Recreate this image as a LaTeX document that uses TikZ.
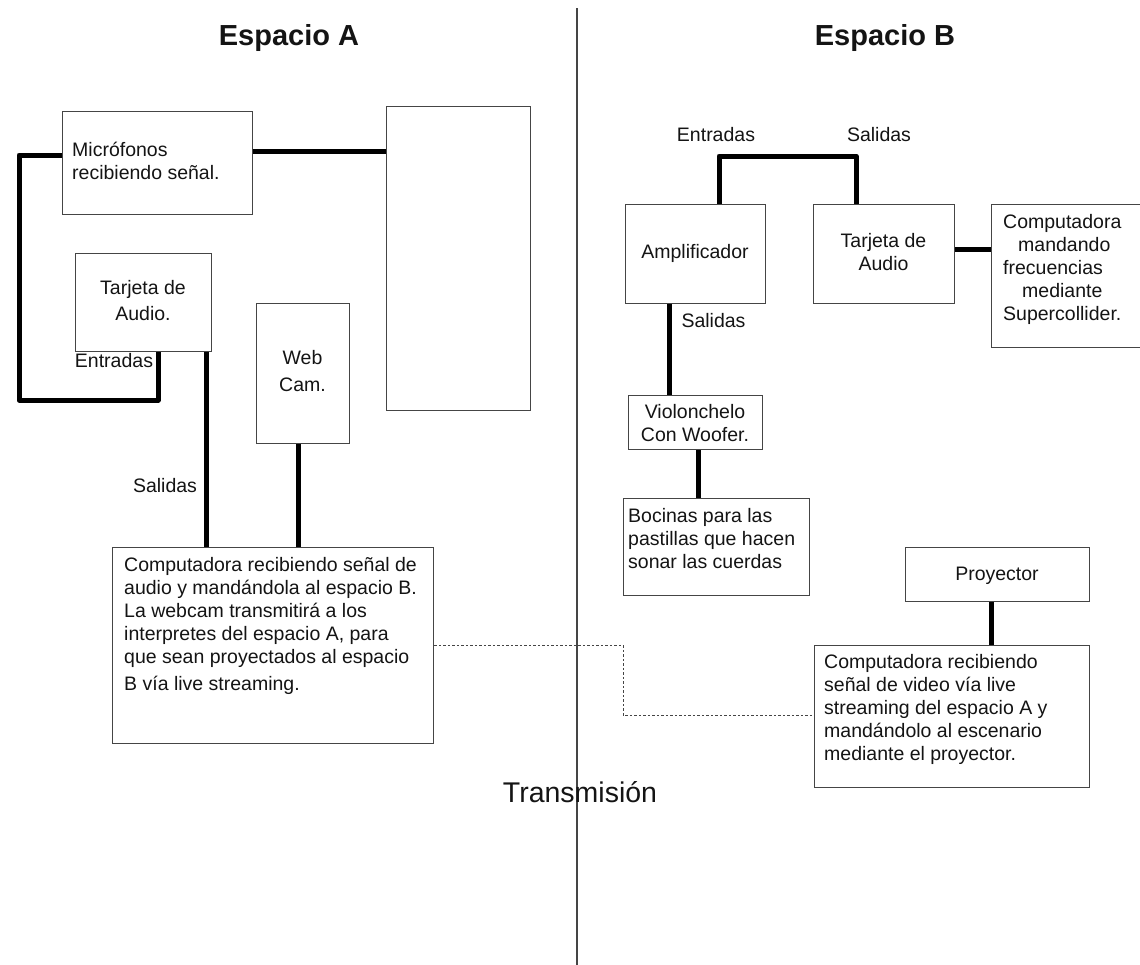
\documentclass[tikz,border=0pt]{standalone}
\usepackage{fontspec}
\setmainfont{Liberation Sans}
\definecolor{boxc}{gray}{0.27}
\definecolor{txtc}{gray}{0.08}
\begin{document}
\begin{tikzpicture}[x=1pt,y=-1pt,
  box/.style={draw=boxc, line width=1.4pt, fill=white, inner sep=0pt, rectangle, anchor=north west},
  wire/.style={line width=5pt, black, line join=round},
  txt/.style={font=\fontsize{19.5}{23}\selectfont, text=txtc, inner sep=0pt, execute at begin node=\strut, execute at end node=\strut},
  ttl/.style={font=\fontsize{29}{34}\selectfont\bfseries, text=txtc, inner sep=0pt},
  big/.style={font=\fontsize{28.5}{34}\selectfont, text=txtc, inner sep=0pt},
  divider/.style={line width=1.3pt, draw=boxc},
  linkdash/.style={line width=1pt, draw=boxc, dash pattern=on 2.5pt off 2pt}]
\useasboundingbox[fill=white] (0,0) rectangle (1140,964);

% divider
\coordinate (divtop) at (577,8);
\coordinate (divbot) at (577,966);
\draw[divider] (divtop) -- (divbot);

% titles
\node[ttl] (ttlA) at (289,38) {Espacio A};
\node[ttl] (ttlB) at (885,38) {Espacio B};

% boxes Espacio A
\node[box, minimum width=190pt, minimum height=103pt] (mic) at (62,111) {};
\node[box, minimum width=144pt, minimum height=304pt] (rbox) at (386,106) {};
\node[box, minimum width=136pt, minimum height=98pt] (tarA) at (75,253) {};
\node[box, minimum width=93pt, minimum height=140pt] (web) at (256,303) {};
\node[box, minimum width=321pt, minimum height=196pt] (compA) at (112,547) {};

% boxes Espacio B
\node[box, minimum width=140pt, minimum height=99pt] (amp) at (625,204) {};
\node[box, minimum width=141pt, minimum height=99pt] (tarB) at (813,204) {};
\node[box, minimum width=160pt, minimum height=143pt] (comp1) at (991,204) {};
\node[box, minimum width=134pt, minimum height=54pt] (vio) at (628,395) {};
\node[box, minimum width=186pt, minimum height=97pt] (boc) at (623,498) {};
\node[box, minimum width=184pt, minimum height=54pt] (proy) at (905,547) {};
\node[box, minimum width=275pt, minimum height=142pt] (comp2) at (814,645) {};

% box texts
\node[txt, align=left, anchor=west] (micT) at (72,164) {Micrófonos\\recibiendo señal.};
\node[txt, align=center] (tarAT) at (143,304) {Tarjeta de\\[3pt]Audio.};
\node[txt, align=center] (webT) at (302.5,374) {Web\\[4pt]Cam.};
\node[txt, align=left, anchor=west] (compAT) at (124,627) {Computadora recibiendo señal de\\audio y mandándola al espacio B.\\La webcam transmitirá a los\\interpretes del espacio A, para\\que sean proyectados al espacio\\[4pt]B vía live streaming.};
\node[txt, align=center] (ampT) at (695,254) {Amplificador};
\node[txt, align=center] (tarBT) at (883.5,255) {Tarjeta de\\Audio};
\node[txt, align=left, anchor=west] (comp1T) at (1003,271) {Computadora\\\hspace*{15pt}mandando\\frecuencias\\\hspace*{19pt}mediante\\Supercollider.};
\node[txt, align=center] (vioT) at (695,426) {Violonchelo\\Con Woofer.};
\node[txt, align=left, anchor=west] (bocT) at (628,542) {Bocinas para las\\pastillas que hacen\\sonar las cuerdas};
\node[txt, align=center] (proyT) at (997,576) {Proyector};
\node[txt, align=left, anchor=west] (comp2T) at (824,711) {Computadora recibiendo\\señal de video vía live\\streaming del espacio A y\\mandándolo al escenario\\mediante el proyector.};

% connector labels
\node[txt] (entA) at (114,363) {Entradas};
\node[txt] (salA) at (165,488) {Salidas};
\node[txt] (entB) at (716,137) {Entradas};
\node[txt] (salB) at (879,137) {Salidas};
\node[txt] (salAmp) at (713.5,323) {Salidas};
\node[big] (trans) at (580,792) {Transmisión};

% wires Espacio A
\coordinate (m1) at ([yshift=-40pt]mic.north east);
\draw[wire] (m1) -- (m1 -| rbox.west);
\coordinate (m2) at ([yshift=-44pt]mic.north west);
\coordinate (loopL) at (19,400);
\coordinate (tin) at ([xshift=83pt]tarA.south west);
\draw[wire] (m2) -| (loopL) -| (tin);
\coordinate (tout) at ([xshift=-6pt]tarA.south east);
\draw[wire] (tout) -- (tout |- compA.north);
\coordinate (wout) at ([xshift=-4.5pt]web.south);
\draw[wire] (wout) -- (wout |- compA.north);

% wires Espacio B
\coordinate (a1) at ([xshift=94pt]amp.north west);
\coordinate (b1) at ([xshift=43pt]tarB.north west);
\draw[wire] (a1) -- ++(0,-48) -| (b1);
\coordinate (tb) at ([yshift=4.5pt]tarB.east);
\draw[wire] (tb) -- (tb -| comp1.west);
\coordinate (a2) at ([xshift=44pt]amp.south west);
\draw[wire] (a2) -- (a2 |- vio.north);
\coordinate (v2) at ([xshift=70pt]vio.south west);
\draw[wire] (v2) -- (v2 |- boc.north);
\coordinate (p2) at ([xshift=-6pt]proy.south);
\draw[wire] (p2) -- (p2 |- comp2.north);

% transmission link
\coordinate (d1) at ([yshift=-98pt]compA.north east);
\coordinate (d2) at ([yshift=-70pt]comp2.north west);
\coordinate (dm) at (623,0);
\draw[linkdash] (d1) -- (d1 -| dm) |- (d2);
\end{tikzpicture}
\end{document}
